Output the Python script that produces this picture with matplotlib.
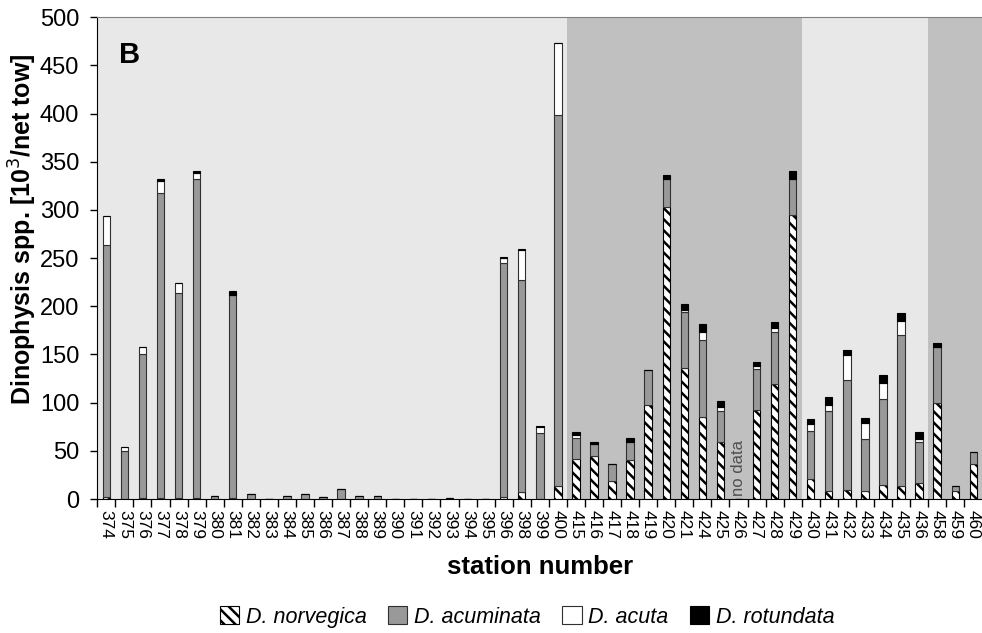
import numpy as np
import matplotlib
matplotlib.use('Agg')
import matplotlib.pyplot as plt

plt.rcParams['font.family'] = ['Liberation Sans', 'DejaVu Sans']
plt.rcParams['hatch.linewidth'] = 1.8

# station numbers (categories)
stations = ['374', '375', '376', '377', '378', '379', '380', '381', '382', '383',
            '384', '385', '386', '387', '388', '389', '390', '391', '392', '393',
            '394', '395', '396', '398', '399', '400', '415', '416', '417', '418',
            '419', '420', '421', '424', '425', '426', '427', '428', '429', '430',
            '431', '432', '433', '434', '435', '436', '458', '459', '460']

# cell counts [10^3 / net tow]
norvegica = [2, 0, 1, 1, 1, 1, 0, 1, 0, 0,
             0, 0, 0, 0, 0, 0, 0, 0, 0, 0,
             0, 0, 2, 7, 0, 13, 42, 45, 19, 40,
             98, 303, 136, 85, 59, 0, 92, 119, 295, 21,
             8, 9, 8, 15, 14, 17, 100, 8, 36]
acuminata = [262, 50, 150, 317, 213, 331, 3, 211, 5, 0,
             2.8, 4.9, 1.7, 10.4, 2.8, 2.8, 0, 0, 0, 1,
             0, 0, 243, 220, 69, 386, 21, 12, 17, 19,
             36, 29, 58, 80, 32, 0, 43, 54, 37, 50,
             83, 115, 54, 89, 156, 42, 58, 6, 13]
acuta = [30, 4, 6.5, 12, 10.5, 6, 0, 0, 0, 0,
         0, 0, 0, 0, 0, 0, 0, 0, 0, 0,
         0, 0, 5, 31, 6, 74, 3.5, 0, 0, 0,
         0, 0, 2, 8, 4.5, 0, 3, 5, 0, 6.5,
         7, 25, 17, 16, 14.5, 3.5, 0, 0, 0]
rotundata = [0, 0, 0, 2, 0, 2, 0, 3.5, 0, 0,
             0, 0, 0, 0, 0, 0, 0, 0, 0, 0,
             0, 0, 1, 2, 0.5, 0, 3.5, 2.5, 0.5, 4,
             0, 4, 6, 9, 6, 0, 4, 5.5, 8.5, 6,
             8, 6, 5, 8.5, 8.5, 7, 3.5, 0, 0]

# shaded station groups (first, last)
dark_groups = [('415', '429'), ('458', '460')]
no_data = '426'

x = np.arange(len(stations))
norvegica = np.array(norvegica, dtype=float)
acuminata = np.array(acuminata, dtype=float)
acuta = np.array(acuta, dtype=float)
rotundata = np.array(rotundata, dtype=float)

fig = plt.figure(figsize=(9.82, 6.33), dpi=100)
ax = fig.add_axes([97.3 / 982, 134 / 633, 885 / 982, 481.7 / 633])
ax.set_facecolor('#e8e8e8')

for a, b in dark_groups:
    ax.axvspan(stations.index(a) - 0.5, stations.index(b) + 0.5,
               color='#c0c0c0', zorder=0, lw=0)

w = 0.41
ax.bar(x, norvegica, w, color='white', edgecolor='black', hatch='\\\\\\',
       linewidth=0.8, label='D. norvegica', zorder=2)
b1 = norvegica
ax.bar(x, acuminata, w, bottom=b1, color='#999999', edgecolor='#303030',
       linewidth=0.8, label='D. acuminata', zorder=2)
b2 = b1 + acuminata
ax.bar(x, acuta, w, bottom=b2, color='white', edgecolor='#303030',
       linewidth=0.8, label='D. acuta', zorder=2)
b3 = b2 + acuta
ax.bar(x, rotundata, w, bottom=b3, color='black', edgecolor='black',
       linewidth=0.8, label='D. rotundata', zorder=2)

ax.text(stations.index(no_data), 3, 'no data', rotation=90, ha='center',
        va='bottom', fontsize=12, color='#505050')

ax.set_xlim(-0.5, len(stations) - 0.5)
ax.set_ylim(0, 500)
ax.set_yticks(np.arange(0, 501, 50))
ax.tick_params(axis='y', labelsize=17, length=5, direction='out', width=1, pad=8)

# ticks between categories, labels at centres
ax.set_xticks(x - 0.5)
ax.set_xticklabels([])
ax.tick_params(axis='x', which='major', length=6, width=1)
ax.set_xticks(x, minor=True)
ax.set_xticklabels(stations, minor=True, rotation=270, fontsize=12.5)
ax.tick_params(axis='x', which='minor', length=0, pad=8)

ax.spines['right'].set_visible(False)
ax.spines['top'].set_color('#808080')
ax.spines['left'].set_color('black')
ax.spines['bottom'].set_color('black')

ax.set_ylabel('Dinophysis spp. [10$^3$/net tow]', fontsize=18, fontweight='bold')
ax.yaxis.set_label_coords(-0.066, 0.56)
ax.set_xlabel('station number', fontsize=18.5, fontweight='bold', labelpad=11)

fig.text(130 / 982, 1 - 55 / 633, 'B', fontsize=21, fontweight='bold',
         ha='center', va='center')

fig.legend(loc='center', bbox_to_anchor=(527 / 982, 1 - 617 / 633), ncol=4,
           frameon=False, handlelength=0.9, handleheight=0.9, handletextpad=0.3,
           columnspacing=1.0, prop={'style': 'italic', 'size': 15.5})

fig.savefig('out.png', dpi=100)
